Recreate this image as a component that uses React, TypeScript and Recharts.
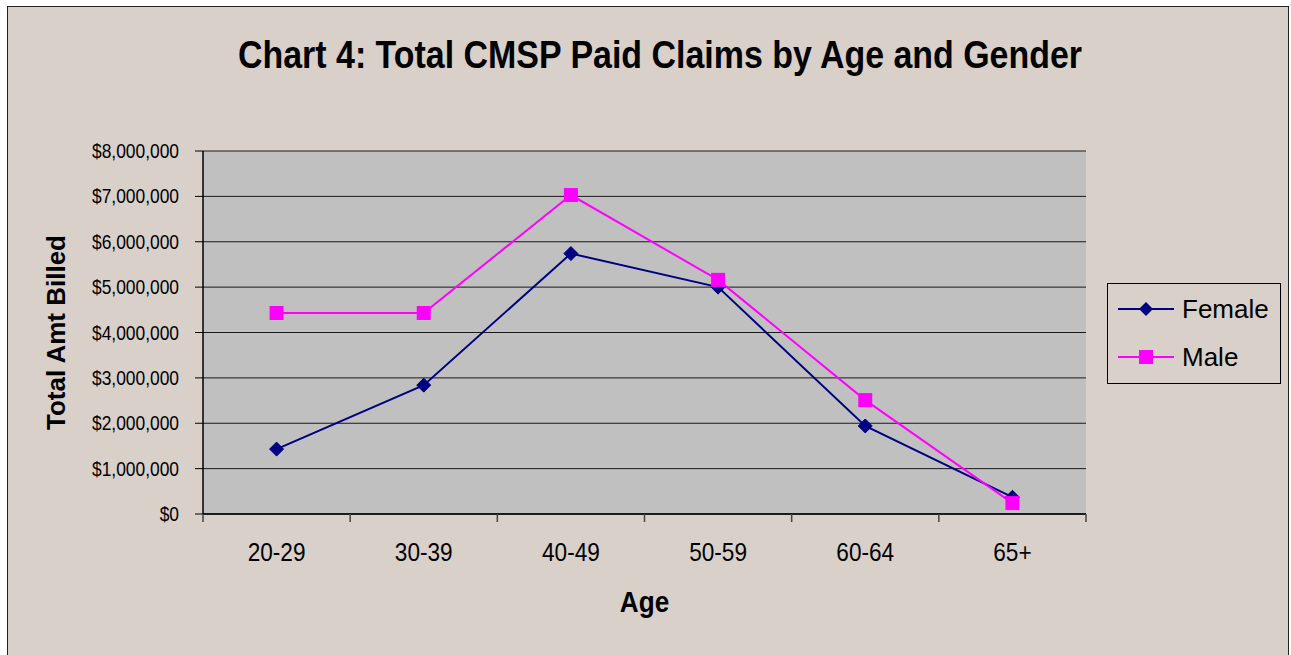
// Chart 4: Total CMSP Paid Claims by Age and Gender
// Excel-style line chart, grey plot area, boundary tick marks on the x axis.

import { LineChart, Line, XAxis, YAxis, CartesianGrid, Legend } from "recharts";

const ageGroups = ["20-29", "30-39", "40-49", "50-59", "60-64", "65+"];
const femaleClaims = [1430000, 2840000, 5740000, 5000000, 1940000, 370000];
const maleClaims = [4430000, 4430000, 7030000, 5160000, 2510000, 240000];
const yTicks = [0, 1000000, 2000000, 3000000, 4000000, 5000000, 6000000, 7000000, 8000000];

const FONT = '"Liberation Sans", Arial, sans-serif';
const SQUEEZE = 0.87;
const NAVY = "#000080";
const MAGENTA = "#FF00FF";
const PLOT_W = 883;
const HALF_BAND = PLOT_W / ageGroups.length / 2;

const data = ageGroups.map((age, i) => ({
  age,
  Female: femaleClaims[i],
  Male: maleClaims[i],
}));

function money(v: number): string {
  return "$" + v.toLocaleString("en-US");
}

function YTick(props: any) {
  const { x, y, payload } = props;
  return (
    <text
      transform={`translate(${x},${y}) scale(${SQUEEZE},1)`}
      textAnchor="end"
      dy="0.35em"
      fontSize={20}
      fontFamily={FONT}
      fill="#000"
    >
      {money(payload.value)}
    </text>
  );
}

// category label in the middle, Excel-style tick marks on the category edges
function XTick(props: any) {
  const { x, y, payload, index } = props;
  const last = index === ageGroups.length - 1;
  return (
    <g>
      <line x1={x - HALF_BAND} y1={y} x2={x - HALF_BAND} y2={y + 8} stroke="#444" strokeWidth={1.5} />
      {last && (
        <line x1={x + HALF_BAND} y1={y} x2={x + HALF_BAND} y2={y + 8} stroke="#444" strokeWidth={1.5} />
      )}
      <text
        transform={`translate(${x},${y + 47}) scale(${SQUEEZE},1)`}
        textAnchor="middle"
        fontSize={26}
        fontFamily={FONT}
        fill="#000"
      >
        {payload.value}
      </text>
    </g>
  );
}

function Diamond(props: any) {
  const { cx, cy, index } = props;
  const r = 7;
  return (
    <path
      key={`f-${index}`}
      d={`M${cx},${cy - r} L${cx + r},${cy} L${cx},${cy + r} L${cx - r},${cy} Z`}
      fill={NAVY}
      stroke={NAVY}
    />
  );
}

function Square(props: any) {
  const { cx, cy, index } = props;
  const s = 7;
  return <rect key={`m-${index}`} x={cx - s} y={cy - s} width={s * 2} height={s * 2} fill={MAGENTA} />;
}

function LegendBox(props: any) {
  const items = props.payload ?? [];
  return (
    <div
      style={{
        width: 174,
        height: 101,
        boxSizing: "border-box",
        border: "1px solid #000",
        background: "#D9D0CA",
        paddingTop: 1,
        fontFamily: FONT,
      }}
    >
      {items.map((it: any) => {
        const female = it.value === "Female";
        const color = female ? NAVY : MAGENTA;
        return (
          <div key={it.value} style={{ display: "flex", alignItems: "center", height: 48 }}>
            <svg width={64} height={20} style={{ marginLeft: 10 }}>
              <line x1={0} y1={10} x2={56} y2={10} stroke={color} strokeWidth={2} />
              {female ? (
                <path d="M28,3 L35,10 L28,17 L21,10 Z" fill={color} />
              ) : (
                <rect x={21} y={3} width={14} height={14} fill={color} />
              )}
            </svg>
            <span style={{ fontSize: 26, color: "#000", lineHeight: 1 }}>{it.value}</span>
          </div>
        );
      })}
    </div>
  );
}

export default function App() {
  return (
    <div
      style={{
        position: "absolute",
        left: 0,
        top: 0,
        width: 1291,
        height: 655,
        background: "#fff",
        overflow: "hidden",
      }}
    >
      <div
        style={{
          position: "absolute",
          left: 7,
          top: 6,
          width: 1280,
          height: 660,
          border: "1px solid #222",
          background: "#D9D0CA",
        }}
      >
        <svg width={1280} height={100} style={{ position: "absolute", left: 0, top: 0 }}>
          <text
            x={652}
            y={61}
            textAnchor="middle"
            fontSize={39}
            fontWeight="bold"
            fontFamily={FONT}
            textLength={844}
            lengthAdjust="spacingAndGlyphs"
            fill="#000"
          >
            Chart 4: Total CMSP Paid Claims by Age and Gender
          </text>
        </svg>
        <div style={{ position: "absolute", left: 0, top: 0 }}>
          <LineChart
            width={1280}
            height={648}
            data={data}
            margin={{ top: 144, right: 202, bottom: 0, left: 0 }}
          >
            <CartesianGrid
              xAxisId="cat"
              yAxisId="left"
              vertical={false}
              fill="#C0C0C0"
              stroke="#1a1a1a"
              strokeWidth={1}
            />
            <XAxis
              xAxisId="cat"
              dataKey="age"
              height={141}
              padding={{ left: HALF_BAND, right: HALF_BAND }}
              axisLine={{ stroke: "#000", strokeWidth: 1.5 }}
              tickLine={false}
              tickSize={0}
              tickMargin={0}
              tick={<XTick />}
              interval={0}
              label={{
                content: (p: any) => {
                  const vb = p.viewBox;
                  const cx = vb.x + vb.width / 2;
                  return (
                    <text
                      transform={`translate(${cx},${vb.y + 98}) scale(${SQUEEZE},1)`}
                      textAnchor="middle"
                      fontSize={30}
                      fontWeight="bold"
                      fontFamily={FONT}
                      fill="#000"
                    >
                      Age
                    </text>
                  );
                },
              }}
            />
            <YAxis
              yAxisId="left"
              width={195}
              domain={[0, 8000000]}
              ticks={yTicks}
              interval={0}
              tickSize={8}
              tickMargin={16}
              axisLine={{ stroke: "#000", strokeWidth: 1.5 }}
              tickLine={{ stroke: "#000" }}
              tick={<YTick />}
              label={{
                content: (p: any) => {
                  const vb = p.viewBox;
                  const cy = vb.y + vb.height / 2;
                  return (
                    <text
                      transform={`translate(${vb.x + 57},${cy}) rotate(-90)`}
                      textAnchor="middle"
                      fontSize={26}
                      fontWeight="bold"
                      fontFamily={FONT}
                      fill="#000"
                    >
                      Total Amt Billed
                    </text>
                  );
                },
              }}
            />
            <YAxis
              yAxisId="right"
              orientation="right"
              width={0}
              domain={[0, 8000000]}
              tick={false}
              tickLine={false}
              axisLine={{ stroke: "#808080", strokeWidth: 1.5 }}
            />
            <Legend
              layout="vertical"
              align="center"
              verticalAlign="middle"
              wrapperStyle={{ position: "absolute", left: 1099, top: 276, width: 174, height: 101 }}
              content={<LegendBox />}
            />
            <Line
              xAxisId="cat"
              yAxisId="left"
              type="linear"
              dataKey="Female"
              stroke={NAVY}
              strokeWidth={2}
              dot={<Diamond />}
              isAnimationActive={false}
            />
            <Line
              xAxisId="cat"
              yAxisId="left"
              type="linear"
              dataKey="Male"
              stroke={MAGENTA}
              strokeWidth={2}
              dot={<Square />}
              isAnimationActive={false}
            />
          </LineChart>
        </div>
      </div>
    </div>
  );
}
